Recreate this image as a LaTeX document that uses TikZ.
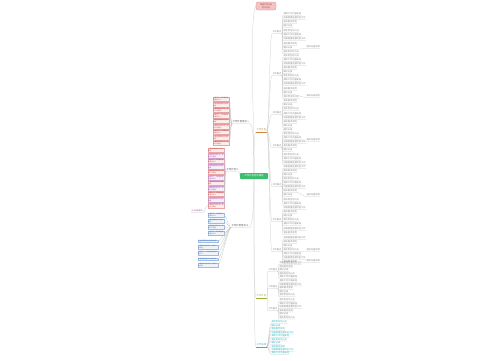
\documentclass[tikz,border=0pt]{standalone}
\usepackage{fontspec}
\newfontfamily\cjk{Noto Sans CJK SC}
\XeTeXlinebreaklocale "zh"
\XeTeXlinebreakskip = 0pt plus 0.3pt
\definecolor{rootfill}{HTML}{F2C4C4}
\definecolor{rootdraw}{HTML}{D98C8C}
\definecolor{roottext}{HTML}{A33A3A}
\definecolor{cenfill}{HTML}{3DBE6E}
\definecolor{lineg}{HTML}{C8C8C8}
\definecolor{leafg}{HTML}{8A8A8A}
\definecolor{pinkd}{HTML}{EBA3A3}
\definecolor{pinkf}{HTML}{FCEEEE}
\definecolor{pinkt}{HTML}{C0504D}
\definecolor{purpd}{HTML}{D3A3D0}
\definecolor{purpf}{HTML}{F8EEF8}
\definecolor{purpt}{HTML}{A0509A}
\definecolor{blued}{HTML}{9DBBE3}
\definecolor{bluef}{HTML}{EFF4FB}
\definecolor{bluet}{HTML}{4A7CC0}
\definecolor{orng}{HTML}{D08A40}
\definecolor{olivec}{HTML}{9AAE3A}
\definecolor{cyanc}{HTML}{2BB5C0}
\definecolor{labg}{HTML}{444444}

\newcommand\mmleaf[1]{\ifcase#1 具体工作内容安排\or 相关要求说明\or 落实责任到人员\or 加强管理监督检查工作\or 做好记录\fi}
\newcommand\mmboxtext[1]{\ifcase#1 认真做好各项工作，提高工作质量\or 加强学习，不断提高自身素质水平\or 严格按照要求执行相关制度\fi}

\newcommand\mmgroup[5]{%
  \node[sublab] (#2) at (#3,#4) {工作要点};
  \draw[conn] (#1.east) .. controls +(2.5,0) and +(-2.5,0) .. (#2.south west) -- (#2.south east);
  \pgfmathsetmacro\mmix{#3+11}%
  \foreach \iy [count=\i] in {#5}{%
    \pgfmathtruncatemacro\mmk{mod(\i*3+#4,5)}%
    \node[leaf] (#2-\i) at (\mmix,\iy) {\mmleaf{\mmk}};
    \draw[conn] (#2.south east) .. controls +(1.5,0) and +(-1.5,0) .. (#2-\i.south west) -- (#2-\i.south east);
  }%
}

\begin{document}
\begin{tikzpicture}[x=1pt,y=-1pt,
  conn/.style={draw=lineg,line width=0.25pt},
  leaf/.style={anchor=west,font=\cjk\fontsize{2.2}{2.6}\selectfont,text=leafg,inner sep=0.3pt},
  sublab/.style={anchor=west,font=\cjk\fontsize{2.2}{2.6}\selectfont,text=leafg,inner sep=0.3pt},
  blab/.style={font=\cjk\fontsize{2.4}{2.8}\selectfont,text=labg,inner sep=0.4pt},
  boxbase/.style={font=\cjk\fontsize{1.5}{1.9}\selectfont,text width=15pt,inner sep=0.6pt,align=left,line width=0.2pt},
  pbox/.style={boxbase,draw=pinkd,fill=pinkf,text=pinkt},
  qbox/.style={boxbase,draw=purpd,fill=purpf,text=purpt},
  bbox/.style={boxbase,draw=blued,fill=bluef,text=bluet}]
\useasboundingbox[fill=white] (0,0) rectangle (500,360);

% root and centre
\node[draw=rootdraw,fill=rootfill,text=roottext,rounded corners=2pt,
  font=\cjk\fontsize{2}{2.5}\selectfont,align=center,minimum width=20pt,
  minimum height=8pt,inner sep=0.5pt,line width=0.3pt] (root) at (266,6) {年度工作计划\\范文大全};
\node[fill=cenfill,text=white,font=\cjk\fontsize{2.4}{2.8}\selectfont,
  minimum width=28pt,minimum height=6pt,inner sep=0.5pt,rounded corners=0.8pt] (cen) at (254,176) {工作计划范文精选};
\draw[conn] (cen.north) .. controls +(0,-60) and (249,20) .. (root.west);

% left branch 1
\node[blab,anchor=east] (L1) at (250,122) {工作计划范文一};
\draw[conn] (cen.north) .. controls +(0,-30) and +(3,0) .. (L1.south east) -- (L1.south west);
\foreach \y [count=\i] in {99,104.5,110,115.5,121,126.5,132,137.5,143}{%
  \pgfmathtruncatemacro\mmk{mod(\i,3)}%
  \node[pbox,anchor=east] (l1-\i) at (229,\y) {\mmboxtext{\mmk}};
  \draw[conn] (L1.south west) .. controls +(-1.5,0) and +(1.5,0) .. (l1-\i.east);
}

% left branch 2
\node[blab,anchor=east] (L2) at (239,170) {工作计划二};
\draw[conn] (cen.west) .. controls +(-1,0) and +(1,0) .. (L2.south east) -- (L2.south west);
\foreach \y [count=\i] in {150,155.5,161,166.5,172,177.5,183,188.5,194,199.5,205.5}{%
  \pgfmathtruncatemacro\mmk{mod(\i+1,3)}%
  \pgfmathtruncatemacro\mmc{mod(\i,2)}%
  \ifnum\mmc=0
    \node[qbox,anchor=east] (l2-\i) at (224,\y) {\mmboxtext{\mmk}};
  \else
    \node[pbox,anchor=east] (l2-\i) at (224,\y) {\mmboxtext{\mmk}};
  \fi
  \draw[conn] (L2.south west) .. controls +(-1.5,0) and +(1.5,0) .. (l2-\i.east);
}
\node[anchor=east,font=\cjk\fontsize{1.8}{2.2}\selectfont,text=purpt,inner sep=0.3pt] (l2x) at (203,211) {补充说明事项};
\draw[conn] (l2-11.west) .. controls +(-1.5,0) and +(1.5,0) .. (l2x.south east) -- (l2x.south west);

% left branch 3
\node[blab,anchor=east] (L3) at (249,226) {工作计划范文三};
\draw[conn] (cen.south) .. controls +(0,30) and +(3,0) .. (L3.south east) -- (L3.south west);
\foreach \y [count=\i] in {215,221,227,233}{%
  \pgfmathtruncatemacro\mmk{mod(\i,3)}%
  \node[bbox,anchor=east] (l3-\i) at (224,\y) {\mmboxtext{\mmk}};
  \draw[conn] (L3.south west) .. controls +(-2,0) and +(2,0) .. (l3-\i.east);
}
\foreach \y [count=\i from 5] in {241,247,253,259,265}{%
  \pgfmathtruncatemacro\mmk{mod(\i,3)}%
  \node[bbox,anchor=east,text width=19pt] (l3-\i) at (218,\y) {\mmboxtext{\mmk}};
  \draw[conn] (L3.south west) .. controls +(-3,0) and +(3,0) .. (l3-\i.east);
}

% right branch 1
\node[blab,anchor=west,text=orng] (R1) at (256,130) {工作计划};
\draw[conn] (cen.north) .. controls +(0,-25) and +(-2,0) .. (R1.south west);
\draw[draw=orng,line width=0.3pt] (R1.south west) -- (R1.south east);
\mmgroup{R1}{g1}{272}{32}{14,18,22,26,31,35,39,44,48,52}
\mmgroup{R1}{g2}{272}{74}{56,60,64,68,72,76,80,84,89,93,97}
\mmgroup{R1}{g3}{272}{113}{101,105,109,114,118,122,126}
\mmgroup{R1}{g4}{272}{146}{130,134,138,142,146,150,155,159,163}
\mmgroup{R1}{g5}{272}{185}{167,171,175,179,183,187,191,195,200,204}
\mmgroup{R1}{g6}{272}{220}{208,212,216,220,224,229,233}
\mmgroup{R1}{g7}{272}{250}{238,242,246,250,254,258,262}
\foreach \src/\yy [count=\i] in {g1-9/47,g2-10/96,g4-3/140,g5-7/195,g7-4/250,g7-7/261}{%
  \node[leaf] (rx\i) at (306,\yy) {相关内容说明};
  \draw[conn] (\src.south east) .. controls +(2,0) and +(-2,0) .. (rx\i.south west) -- (rx\i.south east);
}

% right branch 2
\node[blab,anchor=west,text=olivec] (R2) at (256,296) {工作计划};
\draw[conn] (cen.south) .. controls +(0,60) and +(-2,0) .. (R2.south west);
\draw[draw=olivec,line width=0.3pt] (R2.south west) -- (R2.south east);
\mmgroup{R2}{h1}{268}{270}{263,266.5,270,273.5,277}
\mmgroup{R2}{h2}{268}{287}{281,284.5,288,291.5,295}
\mmgroup{R2}{h3}{268}{309}{300,303.5,307,310.5,314,317.5}

% right branch 3
\node[blab,anchor=west,text=cyanc] (R3) at (256,345) {工作总结};
\draw[conn] (cen.south) .. controls +(0,90) and +(-2,0) .. (R3.south west);
\draw[draw=cyanc,line width=0.3pt] (R3.south west) -- (R3.south east);
\foreach \y [count=\i] in {322,325.5,329,332.5,336,339.5,343,346.5,350,353}{%
  \pgfmathtruncatemacro\mmk{mod(\i*2,5)}%
  \node[leaf,text=cyanc] (r3-\i) at (271,\y) {\mmleaf{\mmk}};
  \draw[conn] (R3.south east) .. controls +(1.5,0) and +(-1.5,0) .. (r3-\i.south west) -- (r3-\i.south east);
}
\end{tikzpicture}
\end{document}
